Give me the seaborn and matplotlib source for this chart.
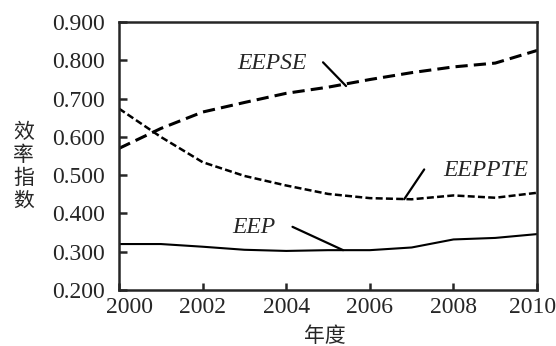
import matplotlib
matplotlib.use("Agg")
import matplotlib.pyplot as plt
import matplotlib.transforms as mtransforms
import seaborn as sns
import pandas as pd

years = [2000, 2001, 2002, 2003, 2004, 2005, 2006, 2007, 2008, 2009, 2010]
eepse = [0.570, 0.622, 0.665, 0.690, 0.714, 0.730, 0.750, 0.768, 0.783, 0.793, 0.826]
eeppte = [0.674, 0.600, 0.534, 0.498, 0.473, 0.451, 0.440, 0.437, 0.447, 0.441, 0.454]
eep = [0.320, 0.320, 0.313, 0.305, 0.302, 0.304, 0.304, 0.311, 0.332, 0.336, 0.346]
y_ticks = [0.2, 0.3, 0.4, 0.5, 0.6, 0.7, 0.8, 0.9]
x_ticks = [2000, 2002, 2004, 2006, 2008, 2010]

sns.set_style("ticks")
plt.rcParams['font.family'] = ['Liberation Serif', 'Noto Sans CJK SC']

df = pd.DataFrame({"year": years * 3,
                   "value": eepse + eeppte + eep,
                   "series": ["EEPSE"] * 11 + ["EEPPTE"] * 11 + ["EEP"] * 11})

fig = plt.figure(figsize=(5.56, 3.46), dpi=100)
ax = fig.add_axes([0.214, 0.162, 0.752, 0.774])

sns.lineplot(data=df, x="year", y="value", hue="series", style="series",
             palette={"EEPSE": "black", "EEPPTE": "black", "EEP": "black"},
             dashes={"EEPSE": (4, 2), "EEPPTE": (2.8, 1.3), "EEP": ""},
             size="series", sizes={"EEPSE": 2.2, "EEPPTE": 1.8, "EEP": 1.5},
             legend=False, ax=ax)

ax.set_xlim(2000, 2010)
ax.set_ylim(0.2, 0.9)
ax.set_xticks(x_ticks)
ax.set_yticks(y_ticks)
ax.set_yticklabels([f"{v:.3f}" for v in y_ticks], fontsize=17)
ax.set_xticklabels([str(v) for v in x_ticks], fontsize=17)
ax.tick_params(axis="y", direction="in", length=6, width=1.8, pad=10)
ax.tick_params(axis="x", direction="in", length=5, width=1.8, pad=5)
for s in ax.spines.values():
    s.set_linewidth(1.8)
    s.set_visible(True)

# shift first/last x tick labels like the reference
xl = ax.get_xticklabels()
xl[0].set_transform(xl[0].get_transform() + mtransforms.ScaledTranslation(11 / 100, 0, fig.dpi_scale_trans))
xl[-1].set_transform(xl[-1].get_transform() + mtransforms.ScaledTranslation(-5 / 100, 0, fig.dpi_scale_trans))

ax.set_xlabel("")
ax.set_ylabel("")
fig.text(0.585, 0.03, "年度", fontsize=15, family=['Noto Sans CJK SC'],
         ha="center", va="center")
fig.text(0.042, 0.52, "效\n率\n指\n数", fontsize=15, family=['Noto Sans CJK SC'],
         ha="center", va="center", linespacing=1.05)

line_kw = dict(arrowstyle="-", color="black", lw=1.6, shrinkA=0, shrinkB=0)
# EEPSE
ax.text(2004.50, 0.793, "EEPSE", fontsize=17, style="italic", ha="right", va="center")
ax.annotate("", xy=(2005.43, 0.733), xytext=(2004.88, 0.795), arrowprops=line_kw)
# EEPPTE
ax.text(2007.75, 0.513, "EEPPTE", fontsize=17, style="italic", ha="left", va="center")
ax.annotate("", xy=(2006.82, 0.437), xytext=(2007.30, 0.515), arrowprops=line_kw)
# EEP
ax.text(2003.75, 0.364, "EEP", fontsize=17, style="italic", ha="right", va="center")
ax.annotate("", xy=(2005.36, 0.304), xytext=(2004.15, 0.365), arrowprops=line_kw)

fig.savefig("out.png", dpi=100)
